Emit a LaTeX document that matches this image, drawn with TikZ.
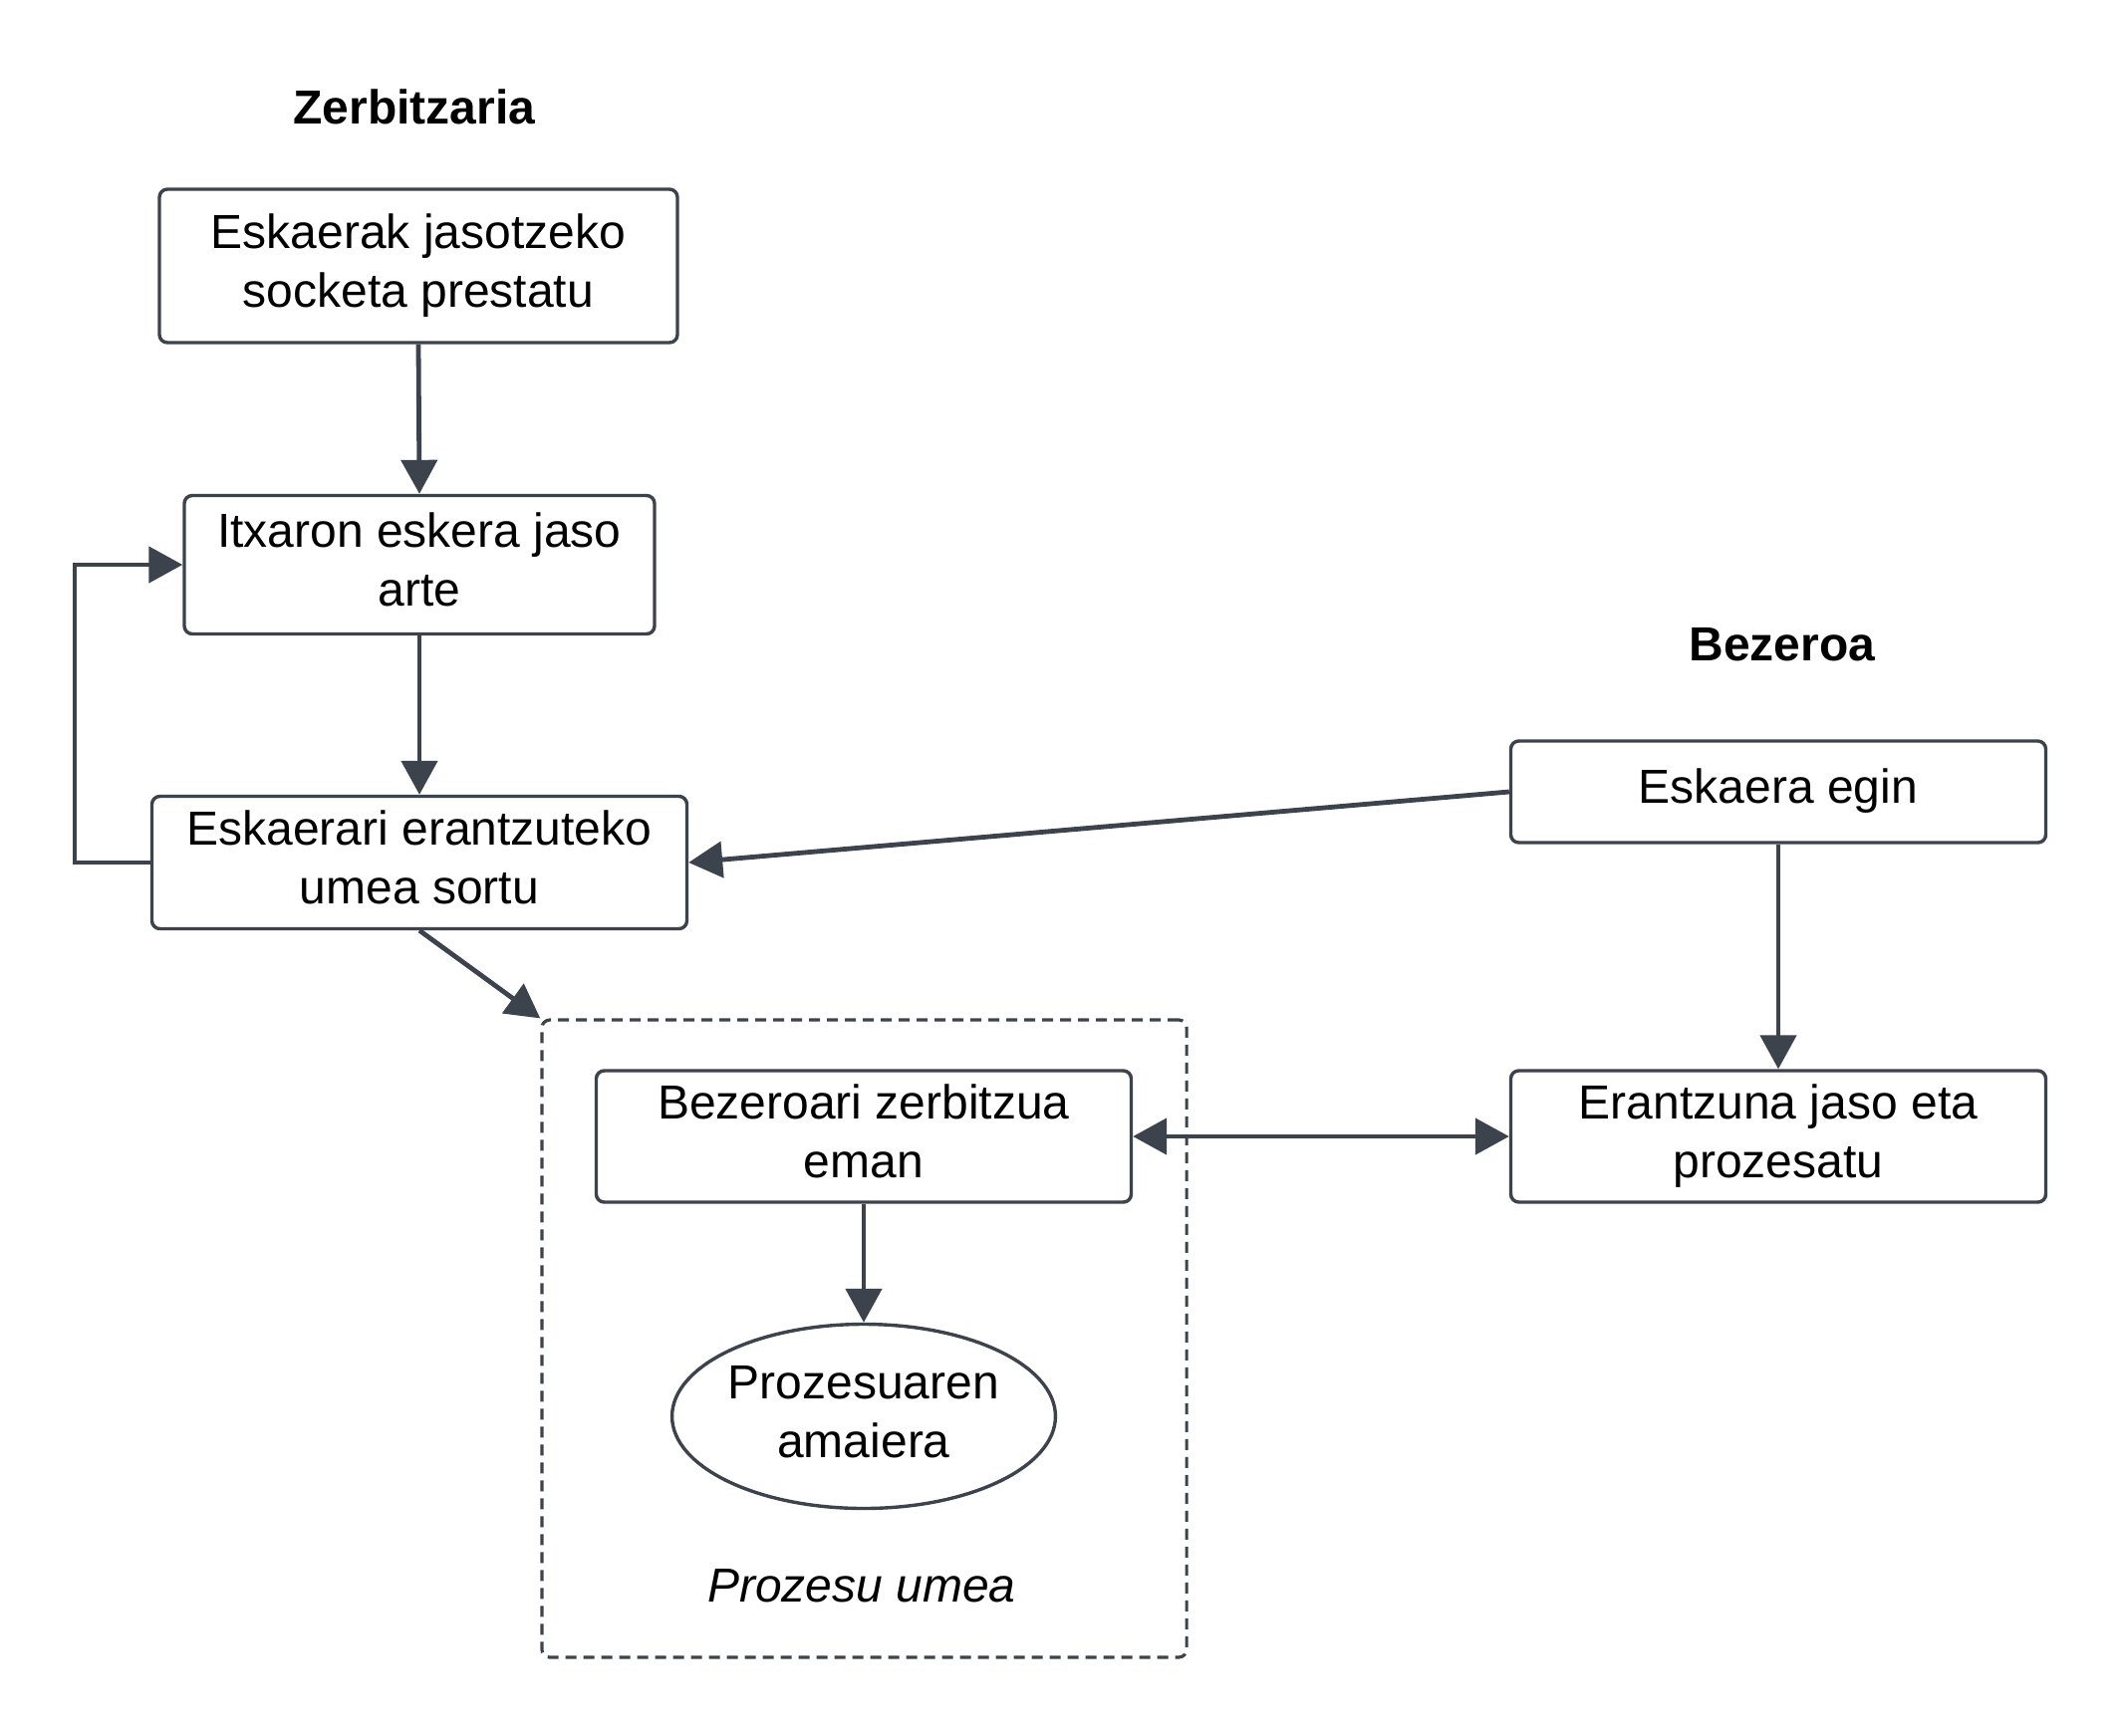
\documentclass[tikz,border=0pt]{standalone}
\usepackage{fontspec}
\setmainfont{Liberation Sans}
\usetikzlibrary{arrows.meta,shapes.geometric}
\definecolor{ln}{HTML}{3D434C}
\newcommand\mytxt[2]{\raisebox{#1}{\begin{tabular}{@{}c@{}}#2\end{tabular}}}
\tikzset{
  box/.style={draw=ln, line width=1.7pt, rounded corners=4pt, fill=white, align=center,
    font=\fontsize{24}{29.3}\selectfont, inner sep=0pt},
  oval/.style={ellipse, draw=ln, line width=1.7pt, fill=white, align=center,
    font=\fontsize{24}{29.3}\selectfont, inner sep=0pt},
  title/.style={font=\fontsize{24}{29}\selectfont\bfseries},
  arr/.style={draw=ln, line width=2.4pt, -{Triangle[length=17pt,width=18pt]}},
  darr/.style={draw=ln, line width=2.4pt, {Triangle[length=17pt,width=18pt]}-{Triangle[length=17pt,width=18pt]}},
  group/.style={draw=ln, line width=1.6pt, dash pattern=on 5.5pt off 3.5pt, rounded corners=4pt, inner sep=0pt}
}
\begin{document}
\begin{tikzpicture}[x=0.5pt,y=-0.5pt]
\useasboundingbox (0,0) rectangle (2132,1742);
% group container
\node[group, minimum width=323.6pt, minimum height=320pt] (child) at (867.5,1344) {};
\node[font=\fontsize{24}{29}\selectfont\itshape] (lbl) at (865,1592) {Prozesu umea};
% titles
\node[title] (t1) at (416,107) {Zerbitzaria};
\node[title] (t2) at (1789,647) {Bezeroa};
% boxes
\node[box, minimum width=260pt, minimum height=77pt] (b1) at (420,267) {\mytxt{0pt}{Eskaerak jasotzeko\\socketa prestatu}};
\node[box, minimum width=236pt, minimum height=69.5pt] (b2) at (421,567) {\mytxt{3.5pt}{Itxaron eskera jaso\\arte}};
\node[box, minimum width=268.5pt, minimum height=66.5pt] (b3) at (421,866) {\mytxt{2pt}{Eskaerari erantzuteko\\umea sortu}};
\node[box, minimum width=268.5pt, minimum height=51pt] (b4) at (1785,795) {\mytxt{0.5pt}{Eskaera egin}};
\node[box, minimum width=268.5pt, minimum height=66pt] (b5) at (1785,1141) {\mytxt{0.5pt}{Erantzuna jaso eta\\prozesatu}};
\node[box, minimum width=268.5pt, minimum height=66pt] (b6) at (867,1141) {\mytxt{1.5pt}{Bezeroari zerbitzua\\eman}};
\node[oval, minimum width=191.7pt, minimum height=92.5pt] (e1) at (867,1422) {\mytxt{2pt}{Prozesuaren\\amaiera}};
% connectors
\coordinate (lp) at (75,0);
\draw[arr] (b1.south) -- (b2.north);
\draw[arr] (b2.south) -- (b3.north);
\draw[arr] (b3.west) -- (b3.west -| lp) |- (b2.west);
\draw[arr] (b3.south) -- (child.north west);
\draw[arr] (b4.west) -- (b3.east);
\draw[arr] (b4.south) -- (b5.north);
\draw[darr] (b6.east) -- (b5.west);
\draw[arr] (b6.south) -- (e1.north);
\end{tikzpicture}
\end{document}
